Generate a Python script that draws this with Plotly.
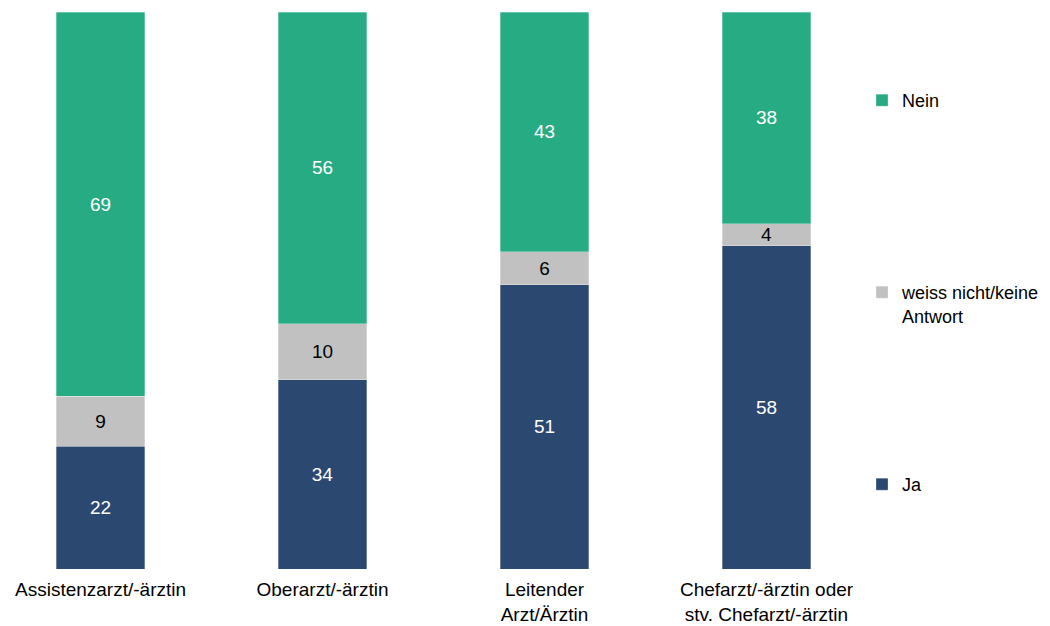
import plotly.graph_objects as go

categories = ["Assistenzarzt/-ärztin", "Oberarzt/-ärztin", "Leitender<br>Arzt/Ärztin",
              "Chefarzt/-ärztin oder<br>stv. Chefarzt/-ärztin"]
ja = [22, 34, 51, 58]
weiss = [9, 10, 6, 4]
nein = [69, 56, 43, 38]

series_names = ["Ja", "weiss nicht/keine<br>Antwort", "Nein"]
colors = ["#2B4870", "#C1C1C1", "#27AB83"]
text_colors = ["white", "black", "white"]
legend_ids = ["legend3", "legend2", "legend"]

FONT = "Liberation Sans, Arial, sans-serif"
FS = 19
LFS = 18

W, H = 1042, 618
PLOT_W = 850

fig = go.Figure()
for vals, name, col, tcol, lg in zip([ja, weiss, nein], series_names, colors, text_colors, legend_ids):
    fig.add_trace(go.Bar(
        x=list(range(len(categories))), y=vals, name=name,
        marker=dict(color=col, line=dict(color="rgba(255,255,255,0.6)", width=0.5)),
        text=[str(v) for v in vals], textposition="inside", insidetextanchor="middle",
        textangle=0, constraintext="none",
        textfont=dict(color=tcol, size=FS, family=FONT),
        width=0.40, legend=lg, hoverinfo="skip", showlegend=True,
    ))

leg_common = dict(xref="container", yref="container", x=854 / W, xanchor="left",
                  yanchor="top", valign="top", bgcolor="rgba(0,0,0,0)",
                  borderwidth=0, itemwidth=30,
                  font=dict(size=LFS, family=FONT, color="black"))

x0 = -92.5 / 222
fig.update_layout(
    barmode="stack",
    width=W, height=H,
    showlegend=True,
    margin=dict(l=0, r=W - PLOT_W, t=4, b=57),
    paper_bgcolor="white", plot_bgcolor="white",
    font=dict(family=FONT, size=FS, color="black"),
    uniformtext=dict(mode="show", minsize=8),
    xaxis=dict(tickmode="array", tickvals=list(range(len(categories))), ticktext=categories,
               range=[x0, x0 + PLOT_W / 222], showgrid=False, zeroline=False,
               showline=False, ticks="", ticklabelstandoff=7, automargin=False,
               tickfont=dict(size=FS, family=FONT, color="black")),
    yaxis=dict(range=[0, 100], visible=False),
    legend=dict(**leg_common, y=1 - 74 / H),
    legend2=dict(**leg_common, y=1 - 266 / H),
    legend3=dict(**leg_common, y=1 - 458 / H),
)

fig.write_html("out.html")
